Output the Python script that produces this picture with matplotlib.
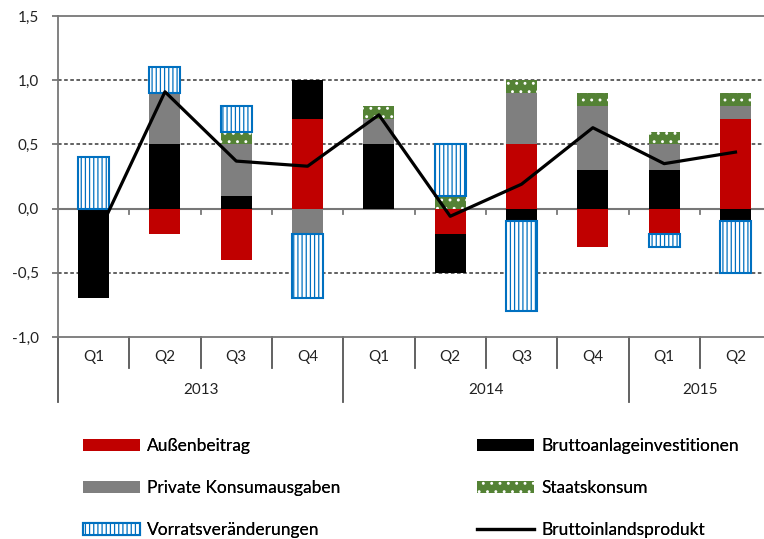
import matplotlib.pyplot as plt
import matplotlib.transforms as mtransforms
import numpy as np

plt.rcParams['font.family'] = ['Lato', 'DejaVu Sans']
plt.rcParams['hatch.linewidth'] = 0.9

# data (growth contributions, percentage points)
quarters = ['Q1', 'Q2', 'Q3', 'Q4', 'Q1', 'Q2', 'Q3', 'Q4', 'Q1', 'Q2']
years = ['2013', '2014', '2015']
year_quarters = [4, 4, 2]

aussen = [0.0, -0.2, -0.4, 0.7, 0.0, -0.2, 0.5, -0.3, -0.2, 0.7]
brutto_inv = [-0.7, 0.5, 0.1, 0.3, 0.5, -0.3, -0.1, 0.3, 0.3, -0.1]
privat = [0.0, 0.4, 0.4, -0.2, 0.2, 0.0, 0.4, 0.5, 0.2, 0.1]
staat = [0.0, 0.0, 0.1, 0.0, 0.1, 0.1, 0.1, 0.1, 0.1, 0.1]
vorrat = [0.4, 0.2, 0.2, -0.5, 0.0, 0.4, -0.7, 0.0, -0.1, -0.4]
bip = [-0.27, 0.91, 0.37, 0.33, 0.73, -0.06, 0.19, 0.63, 0.35, 0.44]

yticks = [-1.0, -0.5, 0.0, 0.5, 1.0, 1.5]

axis_grey = '#777777'

fig = plt.figure(figsize=(7.64, 5.39), dpi=100)
ax = fig.add_axes([0.0759, 0.3748, 0.9241, 0.5955])

x = np.arange(len(quarters))
width = 0.435
pos_bottom = np.zeros(len(x))
neg_bottom = np.zeros(len(x))

styles = [
    (aussen, 'Außenbeitrag', dict(color='#C00000')),
    (brutto_inv, 'Bruttoanlageinvestitionen', dict(color='black')),
    (privat, 'Private Konsumausgaben', dict(color='#7F7F7F')),
    (staat, 'Staatskonsum', dict(facecolor='#548235', edgecolor='white', hatch='..', linewidth=0)),
    (vorrat, 'Vorratsveränderungen', dict(facecolor='white', edgecolor='#0070C0', hatch='||||', linewidth=1.5)),
]
handles = {}
for vals, name, kw in styles:
    vals = np.array(vals)
    bottom = np.where(vals >= 0, pos_bottom, neg_bottom)
    nz = vals != 0  # skip empty segments so no stray edges are drawn
    bars = ax.bar(x[nz], vals[nz], width, bottom=bottom[nz], label=name, zorder=3, **kw)
    handles[name] = bars
    pos_bottom += np.where(vals > 0, vals, 0)
    neg_bottom += np.where(vals < 0, vals, 0)

line, = ax.plot(x, bip, color='black', linewidth=2.3, zorder=4, label='Bruttoinlandsprodukt')
handles['Bruttoinlandsprodukt'] = line

ax.set_xlim(-0.5, 9.4)
ax.set_ylim(-1.0, 1.5)

# grid lines
for v in [-0.5, 0.5, 1.0]:
    ax.axhline(v, color='#555555', linewidth=1.3, linestyle=(0, (2.0, 1.4)), zorder=1)
ax.axhline(0, color=axis_grey, linewidth=1.5, zorder=2)
for b in np.arange(0.5, 9.5, 1.0):
    ax.plot([b, b], [0, -0.04], color=axis_grey, linewidth=1.3, zorder=2)

for s in ['top', 'left', 'bottom']:
    ax.spines[s].set_color(axis_grey)
    ax.spines[s].set_linewidth(1.3)
ax.spines['right'].set_visible(False)

ax.set_yticks(yticks)
ax.set_yticklabels([f'{v:.1f}'.replace('.', ',') for v in yticks], fontsize=11, color='#222222')
ax.tick_params(axis='y', length=4.5, color=axis_grey, width=1.3, pad=9)
ax.set_xticks([])

# two-level category axis
trans = mtransforms.blended_transform_factory(ax.transData, ax.transAxes)
year_edges = np.cumsum([0] + year_quarters) - 0.5
for b in np.arange(-0.5, 9.5, 1.0):
    low = -0.2025 if b in year_edges else -0.0966
    ax.plot([b, b], [0, low], transform=trans, color='#555555', linewidth=1.3, clip_on=False)
for i, q in enumerate(quarters):
    ax.text(i, -0.0623, q, transform=trans, ha='center', va='center', fontsize=11, color='#222222')
for j, yr in enumerate(years):
    mid = (year_edges[j] + year_edges[j + 1]) / 2
    ax.text(mid, -0.165, yr, transform=trans, ha='center', va='center', fontsize=11, color='#222222')

# legend in two columns
left_names = ['Außenbeitrag', 'Private Konsumausgaben', 'Vorratsveränderungen']
right_names = ['Bruttoanlageinvestitionen', 'Staatskonsum', 'Bruttoinlandsprodukt']
for names, xpos in [(left_names, 83 / 764), (right_names, 477 / 764)]:
    leg = fig.legend([handles[n] for n in names], names, loc='upper left',
                     bbox_to_anchor=(xpos, 0.187), frameon=False, fontsize=12.5,
                     handlelength=3.3, handletextpad=0.4, labelspacing=1.5,
                     borderpad=0, borderaxespad=0)
    fig.add_artist(leg)

fig.savefig('out.png', dpi=100)
